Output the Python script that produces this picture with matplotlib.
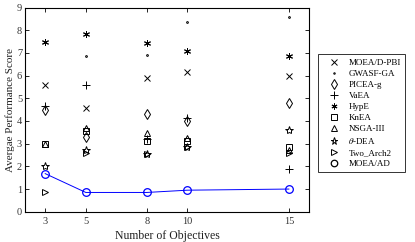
import matplotlib
matplotlib.use('Agg')
import matplotlib.pyplot as plt

plt.rcParams['font.family'] = ['Liberation Serif', 'DejaVu Serif']
plt.rcParams['mathtext.fontset'] = 'stix'

# number of objectives
objectives = [3, 5, 8, 10, 15]

# average performance score per algorithm
moead_pbi = [5.6, 4.55, 5.9, 6.15, 6.0]
gwasf_ga = [7.5, 6.85, 6.9, 8.35, 8.6]
picea_g = [4.5, 3.3, 4.3, 4.0, 4.8]
vaea = [4.65, 5.6, 3.2, 4.15, 1.9]
hype = [7.5, 7.85, 7.45, 7.1, 6.85]
knea = [3.0, 3.55, 3.1, 3.1, 2.85]
nsga3 = [3.0, 3.7, 3.45, 3.25, 2.7]
theta_dea = [2.0, 2.7, 2.55, 2.85, 3.6]
two_arch2 = [0.85, 2.6, 2.55, 2.85, 2.6]
moea_ad = [1.68, 0.85, 0.85, 0.95, 1.0]

fig = plt.figure(figsize=(4.15, 2.42), dpi=100)
ax = fig.add_axes([0.060, 0.125, 0.685, 0.844])

ms = 5
mk = dict(linestyle='none', color='k', markerfacecolor='none', markeredgewidth=0.7)
ax.plot(objectives, moead_pbi, marker='x', markersize=ms, label='MOEA/D-PBI', **mk)
ax.plot(objectives, gwasf_ga, marker='.', markersize=2.5, label='GWASF-GA', **mk)
ax.plot(objectives, picea_g, marker='d', markersize=ms + 0.5, label='PICEA-g', **mk)
ax.plot(objectives, vaea, marker='+', markersize=ms + 1, label='VaEA', **mk)
ax.plot(objectives, hype, marker=(6, 2, 0), markersize=ms, label='HypE', **mk)
ax.plot(objectives, knea, marker='s', markersize=ms - 0.5, label='KnEA', **mk)
ax.plot(objectives, nsga3, marker='^', markersize=ms, label='NSGA-III', **mk)
ax.plot(objectives, theta_dea, marker='*', markersize=ms + 1, label=r'$\theta$-DEA', **mk)
ax.plot(objectives, two_arch2, marker='>', markersize=ms, label='Two_Arch2', **mk)
ax.plot(objectives, moea_ad, marker='o', markersize=ms + 0.5, color='#0000ff',
        markerfacecolor='none', markeredgewidth=0.9, linewidth=0.7, label='MOEA/AD')

ax.set_xlim(2, 16)
ax.set_ylim(0, 9)
ax.set_xticks(objectives)
ax.set_yticks(range(0, 10))
ax.tick_params(direction='in', top=True, right=True, labelsize=7.5, length=3, width=0.6,
               labelcolor='#333333')
ax.tick_params(axis='y', pad=2)
for s in ax.spines.values():
    s.set_linewidth(0.8)

ax.set_xlabel('Number of Objectives', fontsize=8.5, labelpad=3, color='#222222')
ax.set_ylabel('Avergae Performance Score', fontsize=8, labelpad=1, color='#222222')

leg = ax.legend(loc='upper left', bbox_to_anchor=(1.03, 0.772), fontsize=6.5,
                frameon=True, fancybox=False, edgecolor='k', handlelength=2.6,
                labelspacing=0.3, borderpad=0.5, handletextpad=0.3, borderaxespad=0,
                numpoints=1, markerscale=0.85)
leg.get_frame().set_linewidth(0.7)
# legend shows only black markers
for h in leg.legend_handles:
    h.set_linestyle('none')
    h.set_color('k')
    h.set_markeredgecolor('k')

fig.savefig('out.png', dpi=100)
